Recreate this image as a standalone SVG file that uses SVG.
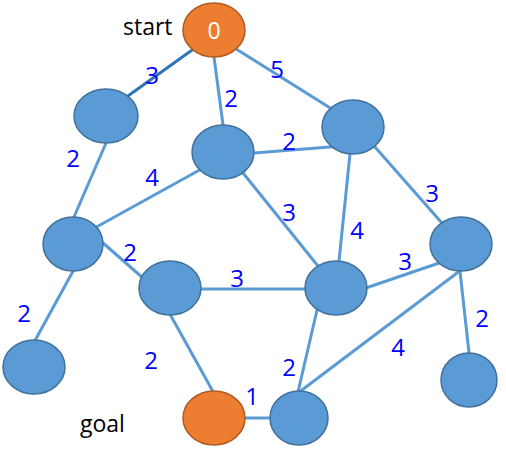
<svg xmlns="http://www.w3.org/2000/svg" width="506" height="458" viewBox="0 0 506 458">
<style>
.e{stroke:#5b9bd5;stroke-width:3;fill:none}
.ed{stroke:#2e75b6;stroke-width:3;fill:none}
.n{fill:#5b9bd5;stroke:#41719c;stroke-width:1.5}
.o{fill:#ed7d31;stroke:#ae5a21;stroke-width:1.5}
.w{font-family:"Open Sans","Liberation Sans",sans-serif;font-size:24px;fill:#0000ff;text-anchor:middle}
.t{font-family:"Open Sans","Liberation Sans",sans-serif;font-size:23px;fill:#000000}
.z{font-family:"Open Sans","Liberation Sans",sans-serif;font-size:23px;fill:#ffffff;text-anchor:middle}
</style>
<rect width="506" height="458" fill="#ffffff"/>
<g id="connectors">
<line class="ed" x1="197" y1="46.5" x2="123" y2="99.5"/>
<line class="e" x1="213.2" y1="51" x2="223.8" y2="131"/>
<line class="e" x1="233" y1="47" x2="335" y2="111"/>
<line class="e" x1="108.4" y1="137.5" x2="71.6" y2="222.5"/>
<line class="e" x1="248" y1="153.5" x2="336" y2="146.5"/>
<line class="e" x1="205" y1="167" x2="91" y2="230"/>
<line class="e" x1="239" y1="168" x2="322" y2="271"/>
<line class="e" x1="350.6" y1="148" x2="338.4" y2="267"/>
<line class="e" x1="371" y1="142.5" x2="445" y2="226.5"/>
<line class="e" x1="98.5" y1="239" x2="147.5" y2="282"/>
<line class="e" x1="76" y1="265.7" x2="32" y2="346"/>
<line class="e" x1="196" y1="289" x2="310" y2="289"/>
<line class="e" x1="360" y1="290" x2="445" y2="261"/>
<line class="e" x1="465" y1="267" x2="294" y2="396"/>
<line class="e" x1="459.3" y1="265" x2="469.7" y2="359"/>
<line class="e" x1="317.5" y1="308" x2="296.6" y2="398"/>
<line class="e" x1="167" y1="308.7" x2="216" y2="397"/>
<line class="e" x1="240" y1="418" x2="275" y2="418"/>
</g>
<g id="labels">
<text class="w" x="152" y="84">3</text>
<text class="w" x="231" y="107">2</text>
<text class="w" x="277" y="78">5</text>
<text class="w" x="73" y="167">2</text>
<text class="w" x="152" y="186">4</text>
<text class="w" x="289" y="150">2</text>
<text class="w" x="289" y="221">3</text>
<text class="w" x="357" y="239">4</text>
<text class="w" x="432" y="202">3</text>
<text class="w" x="130" y="261">2</text>
<text class="w" x="24" y="322">2</text>
<text class="w" x="237" y="287">3</text>
<text class="w" x="405" y="270">3</text>
<text class="w" x="398" y="356">4</text>
<text class="w" x="482" y="327">2</text>
<text class="w" x="151" y="369">2</text>
<text class="w" x="289" y="376">2</text>
<text class="w" x="252" y="405">1</text>
</g>
<g id="node0"><ellipse class="o" cx="214" cy="30" rx="31" ry="27"/><text class="z" x="214" y="39">0</text></g>
<g id="nodeA"><ellipse class="n" cx="106" cy="116" rx="32" ry="27"/></g>
<g id="nodeB"><ellipse class="n" cx="223" cy="152" rx="31" ry="27"/></g>
<g id="nodeC"><ellipse class="n" cx="353" cy="127" rx="31" ry="27"/></g>
<g id="nodeD"><ellipse class="n" cx="73" cy="244" rx="30" ry="27"/></g>
<g id="nodeE"><ellipse class="n" cx="170" cy="288" rx="31" ry="27"/></g>
<g id="nodeF"><ellipse class="n" cx="336" cy="288" rx="31" ry="27"/></g>
<g id="nodeG"><ellipse class="n" cx="461" cy="244" rx="31" ry="27"/></g>
<g id="nodeH"><ellipse class="n" cx="34" cy="367" rx="31" ry="27"/></g>
<g id="nodeI"><ellipse class="n" cx="469" cy="380" rx="28" ry="27"/></g>
<g id="nodeGoal"><ellipse class="o" cx="214" cy="418" rx="31" ry="27"/></g>
<g id="nodeJ"><ellipse class="n" cx="299" cy="418" rx="29" ry="27"/></g>
<g id="text-start"><text class="t" x="123" y="35">start</text></g>
<g id="text-goal"><text class="t" x="80" y="432">goal</text></g>
</svg>
